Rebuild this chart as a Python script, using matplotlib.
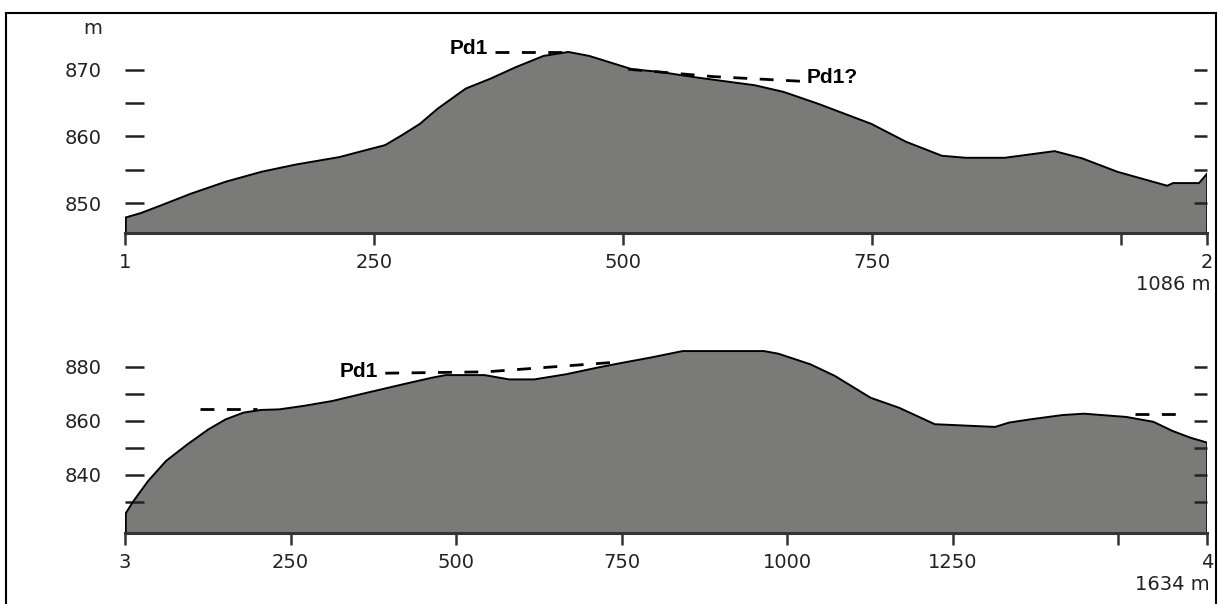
import matplotlib
matplotlib.use("Agg")
import matplotlib.pyplot as plt
from matplotlib.lines import Line2D

plt.rcParams['font.family'] = ['DejaVu Sans']

W, H = 1218, 604

# profile 1 -> 2 (distance m, elevation m)
top_dist = [0, 16, 37, 66, 101, 137, 172, 215, 243, 261, 278, 296, 314, 342, 367, 392, 420, 445,
            466, 509, 537, 572, 607, 632, 661, 696, 749, 784, 820, 844, 883, 908, 933, 961, 996,
            1046, 1052, 1078, 1086]
top_elev = [847.8, 848.5, 849.7, 851.4, 853.2, 854.7, 855.8, 856.9, 858.0, 858.7, 860.2, 861.9,
            864.2, 867.2, 868.7, 870.4, 872.1, 872.7, 872.1, 870.1, 869.7, 868.9, 868.2, 867.7,
            866.7, 864.9, 861.9, 859.2, 857.1, 856.8, 856.8, 857.3, 857.8, 856.7, 854.7, 852.6,
            853.0, 853.0, 854.4]

# profile 3 -> 4
bot_dist = [0, 13, 35, 62, 94, 126, 152, 179, 206, 233, 270, 313, 366, 420, 463, 484, 543, 580,
            618, 666, 714, 752, 794, 842, 965, 987, 1035, 1072, 1126, 1169, 1223, 1314, 1335,
            1367, 1416, 1448, 1512, 1553, 1582, 1609, 1634]
bot_elev = [825.4, 830.4, 837.8, 845.2, 851.3, 856.9, 860.6, 863.1, 864.1, 864.3, 865.6, 867.4,
            870.5, 873.6, 876.0, 877.0, 877.0, 875.4, 875.4, 877.3, 879.8, 881.6, 883.5, 885.9,
            885.9, 884.9, 881.0, 876.7, 868.6, 864.9, 858.8, 857.8, 859.4, 860.6, 862.2, 862.7,
            861.5, 859.7, 856.3, 853.8, 852.0]

# Pd1 level lines
top_pd1_x, top_pd1_y = [371, 445], [872.75, 872.75]
top_pd1q_x, top_pd1q_y = [505, 590, 678], [870.1, 869.0, 868.3]
bot_pd1a_x, bot_pd1a_y = [113, 200], [864.3, 864.3]
bot_pd1b_x, bot_pd1b_y = [393, 545, 737], [877.7, 878.2, 881.7]
bot_pd1c_x, bot_pd1c_y = [1526, 1590], [862.7, 862.7]

top_xticks = [0, 250, 500, 750, 1000, 1086]
top_xlabels = ['1', '250', '500', '750', '', '2']
top_yticks = [850, 855, 860, 865, 870]
top_ylabels = ['850', '', '860', '', '870']

bot_xticks = [0, 250, 500, 750, 1000, 1250, 1500, 1634]
bot_xlabels = ['3', '250', '500', '750', '1000', '1250', '', '4']
bot_yticks = [830, 840, 850, 860, 870, 880]
bot_ylabels = ['', '840', '', '860', '', '880']

FILL = '#7a7b79'
DARK = '#222222'
FS = 14
px = 72.0 / 100  # points per pixel at dpi 100

fig = plt.figure(figsize=(W / 100, H / 100), dpi=100)


def panel(left, right, top, base, xlim, ylim, dist, elev, xt, xl, yt, yl):
    ax = fig.add_axes([left / W, 1 - base / H, (right - left) / W, (base - top) / H])
    ax.set_xlim(*xlim)
    ax.set_ylim(*ylim)
    ax.fill_between(dist, elev, ylim[0], facecolor=FILL, edgecolor='none', zorder=1)
    ax.plot(dist, elev, color='black', lw=1.4, zorder=2)
    ax.plot([dist[0], dist[0]], [ylim[0], elev[0]], color='black', lw=1.8, zorder=2)
    ax.plot([dist[-1], dist[-1]], [ylim[0], elev[-1]], color='black', lw=1.8, zorder=2)
    for s in ['left', 'right', 'top']:
        ax.spines[s].set_visible(False)
    ax.spines['bottom'].set_linewidth(2.2)
    ax.spines['bottom'].set_color('#333333')
    ax.set_xticks(xt)
    ax.set_xticklabels(xl)
    ax.set_yticks(yt)
    ax.set_yticklabels(yl)
    ax.tick_params(axis='x', direction='out', length=12 * px, width=1.8, color='#333333',
                   pad=6, labelsize=FS, labelcolor=DARK)
    ax.tick_params(axis='y', direction='in', length=19 * px, width=1.8, color='#222222',
                   pad=23 * px, labelsize=FS, labelcolor=DARK)
    ax.patch.set_alpha(0)
    # right-hand ticks
    ax2 = ax.twinx()
    ax2.set_ylim(*ylim)
    ax2.set_yticks(yt)
    ax2.set_yticklabels([])
    ax2.tick_params(axis='y', direction='in', length=13 * px, width=1.8, color='#222222')
    for s in ax2.spines.values():
        s.set_visible(False)
    return ax


ax1 = panel(125, 1207, 20, 233, (0, 1086), (845.5, 877.5), top_dist, top_elev,
            top_xticks, top_xlabels, top_yticks, top_ylabels)
ax2 = panel(125, 1207, 340, 533, (0, 1634), (818.5, 890), bot_dist, bot_elev,
            bot_xticks, bot_xlabels, bot_yticks, bot_ylabels)

dash_kw = dict(color='black', lw=2.0, dashes=(5, 4.5), zorder=3, solid_capstyle='butt')
ax1.plot(top_pd1_x, top_pd1_y, **dash_kw)
ax1.plot(top_pd1q_x, top_pd1q_y, **dash_kw)
ax2.plot(bot_pd1a_x, bot_pd1a_y, **dash_kw)
ax2.plot(bot_pd1b_x, bot_pd1b_y, **dash_kw)
ax2.plot(bot_pd1c_x, bot_pd1c_y, **dash_kw)

lab_kw = dict(fontsize=15, fontweight='bold', color='black', va='baseline',
              family=['Liberation Sans', 'DejaVu Sans'])
ax1.text(364, 872.4, 'Pd1', ha='right', **lab_kw)
ax1.text(684, 868.0, 'Pd1?', ha='left', **lab_kw)
ax2.text(382, 876.2, 'Pd1', ha='right', **lab_kw)

fig.text(93 / W, 1 - 29 / H, 'm', fontsize=FS, color=DARK, ha='center', va='center')
fig.text(1210 / W, 1 - 284 / H, '1086 m', fontsize=FS, color=DARK, ha='right', va='center')
fig.text(1210 / W, 1 - 584 / H, '1634 m', fontsize=FS, color=DARK, ha='right', va='center')

# outer frame (left, top, right)
fig.add_artist(Line2D([5.5 / W, 5.5 / W], [0, 1 - 12.5 / H], color='black', lw=1.5))
fig.add_artist(Line2D([5.5 / W, 1215.5 / W], [1 - 12.5 / H, 1 - 12.5 / H], color='black', lw=1.5))
fig.add_artist(Line2D([1215.5 / W, 1215.5 / W], [0, 1 - 12.5 / H], color='black', lw=1.5))

fig.savefig('out.png', dpi=100)
